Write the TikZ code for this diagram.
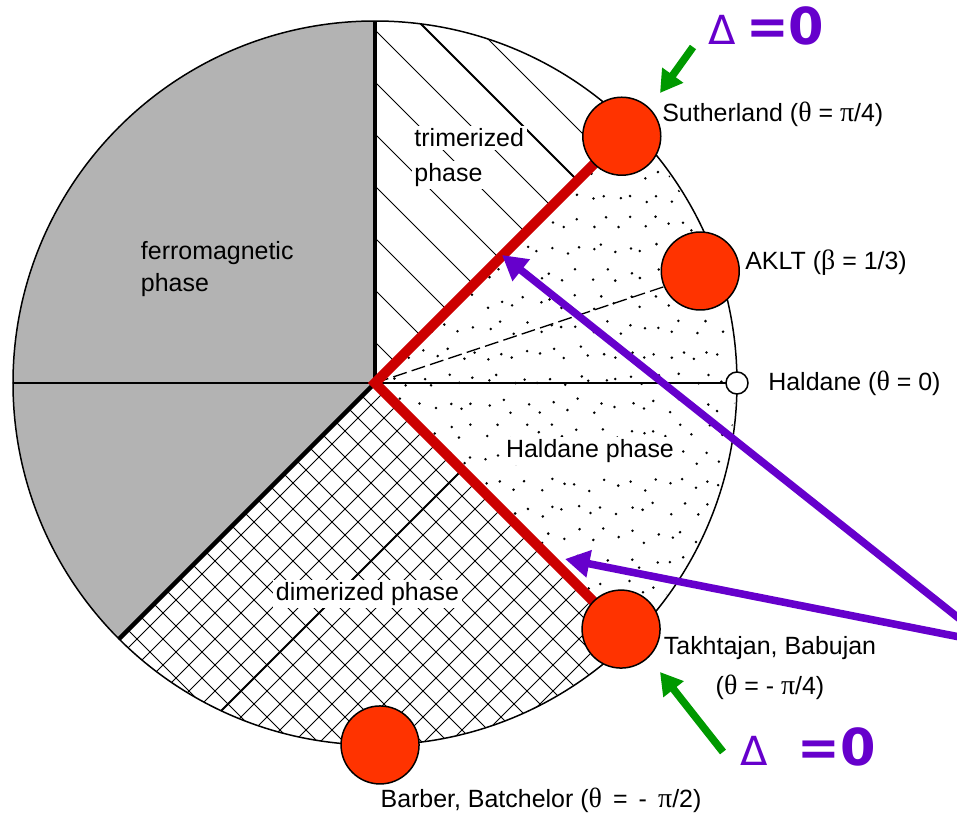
\documentclass[tikz,border=0pt]{standalone}
\usepackage{fontspec}
\setmainfont{Liberation Sans}
\newfontfamily\grk[Scale=1.12]{Liberation Serif}
\newfontfamily\djv{DejaVu Sans}
\usetikzlibrary{arrows.meta}
\definecolor{ferrogray}{HTML}{B3B3B3}
\definecolor{linered}{HTML}{CC0000}
\definecolor{dotred}{HTML}{FF3300}
\definecolor{delpurple}{HTML}{6600CC}
\definecolor{arrgreen}{HTML}{009900}
\tikzset{
  pointdot/.style={circle, draw=black, line width=0.85pt, fill=dotred, minimum size=1.56cm, inner sep=0pt},
  phaselbl/.style={font=\fontsize{14.2}{18.2}\selectfont, align=left, inner sep=1.5pt},
  ptlbl/.style={font=\fontsize{14.2}{22.8}\selectfont, inner sep=0pt},
  deltalbl/.style={text=delpurple, inner sep=0pt, anchor=base west},
  greenarr/.style={-{Triangle[length=12.5pt,width=14pt]}, arrgreen, line width=4.3pt},
  purplearr/.style={-{Triangle[length=14pt,width=15pt]}, delpurple, line width=4.3pt},
}
\begin{document}
\begin{tikzpicture}[x=0.02cm, y=0.02cm]
    \useasboundingbox (-375,-432) rectangle (582,383);

    % Draw ferromagnetic sector
    \fill[ferrogray] (0,0) -- (90:362) arc[start angle=90, end angle=225, radius=362] -- cycle;

    % Draw trimerized hatching
    \begin{scope}
        \clip (0,0) -- (45:362) arc[start angle=45, end angle=90, radius=362] -- cycle;
        \foreach \k in {-8,...,2}
            \draw[line width=0.55pt] (5+52*\k,400) -- (805+52*\k,-400);
        \draw[line width=1.2pt] (5,400) -- (805,-400);
    \end{scope}

    % Draw dimerized cross-hatching
    \begin{scope}
        \clip (0,0) -- (225:362) arc[start angle=225, end angle=315, radius=362] -- cycle;
        \foreach \k in {-8,...,14}
            \draw[line width=0.5pt] (-226+26*\k,-400) -- (574+26*\k,400);
        \foreach \k in {-21,...,1}
            \draw[line width=0.5pt] (26*\k-400,400) -- (26*\k+400,-400);
        \draw[line width=1.2pt] (-226,-400) -- (574,400);
    \end{scope}

    % Draw Haldane dots (jittered grid)
    \begin{scope}
        \clip (0,0) -- (-45:360) arc[start angle=-45, end angle=45, radius=360] -- cycle;
        \pgfmathsetseed{42}
        \foreach \i in {0,...,27} {
            \foreach \j in {-14,...,14} {
                \pgfmathsetmacro\px{8+13*\i+8*rnd-4}
                \pgfmathsetmacro\py{26*\j+6.5*mod(\i,2)+8*rnd-4}
                \fill (\px,\py) circle[radius=1.4];
            }
        }
    \end{scope}

    % Draw circle and phase boundaries
    \draw[line width=0.85pt] (0,0) circle[radius=362];
    \draw[line width=0.85pt] (180:362) -- (0:351);
    \draw[line width=2.6pt] (0,0) -- (90:362);
    \draw[line width=2.6pt] (0,0) -- (225:362);
    \draw[line width=0.75pt, dash pattern=on 8pt off 3pt] (0,0) -- (18.43:330);

    % Draw red critical lines
    \draw[linered, line width=5.7pt, line join=miter] (45:330) -- (0,0) -- (-45:330);

    % Phase labels
    \node[phaselbl, anchor=west] (ferro) at (-237,114) {ferromagnetic\\phase};
    \node[phaselbl, fill=white, anchor=west] (trimA) at (36.5,245) {trimerized};
    \node[phaselbl, fill=white, anchor=west] (trimB) at (36.5,208) {phase};
    \node[phaselbl, fill=white] (hald) at (215,-68) {Haldane phase};
    \node[phaselbl, fill=white] (dim) at (-7.5,-211) {dimerized phase};

    % Special points
    \node[pointdot] (suth) at (45:349) {};
    \node[pointdot] (aklt) at (19:344) {};
    \node[pointdot] (takh) at (-45:348) {};
    \node[pointdot] (barb) at (-89.2:362) {};
    \node[circle, draw=black, fill=white, line width=0.85pt, minimum size=0.44cm, inner sep=0pt] (hpt) at (0:362) {};

    % Point labels
    \node[ptlbl, anchor=west] (suthlbl) at (287,269) {Sutherland ({\grk θ} = {\grk π}/4)};
    \node[ptlbl, anchor=west] (akltlbl) at (370,120) {AKLT ({\grk β} = 1/3)};
    \node[ptlbl, anchor=west] (hptlbl) at (393,0) {Haldane ({\grk θ} = 0)};
    \node[ptlbl, align=center] (takhlbl) at (395,-285) {Takhtajan, Babujan\\({\grk θ} = - {\grk π}/4)};
    \node[ptlbl] (barblbl) at (166,-417) {Barber, Batchelor ({\grk θ} \,=\, - \,{\grk π}/2)};

    % Delta labels
    \node[deltalbl] (dtop) at (333,338) {{\djv\fontsize{22.8}{24}\selectfont Δ}\hspace{6pt}{\djv\bfseries\fontsize{29}{30}\selectfont =0}};
    \node[deltalbl] (dbot) at (365,-382) {{\djv\fontsize{22.8}{24}\selectfont Δ}\hspace{17pt}{\djv\bfseries\fontsize{29}{30}\selectfont =0}};

    % Green arrows
    \coordinate (gtop) at (318,336);
    \coordinate (gtoptip) at (285,290);
    \coordinate (gbot) at (348,-369);
    \coordinate (gbottip) at (285,-289);
    \draw[greenarr] (gtop) -- (gtoptip);
    \draw[greenarr] (gbot) -- (gbottip);

    % Purple arrows
    \coordinate (psrc) at (615,-260);
    \coordinate (ptipA) at (127,128);
    \coordinate (ptipB) at (190,-176);
    \draw[purplearr] (psrc) -- (ptipA);
    \draw[purplearr] (psrc) -- (ptipB);
\end{tikzpicture}
\end{document}
